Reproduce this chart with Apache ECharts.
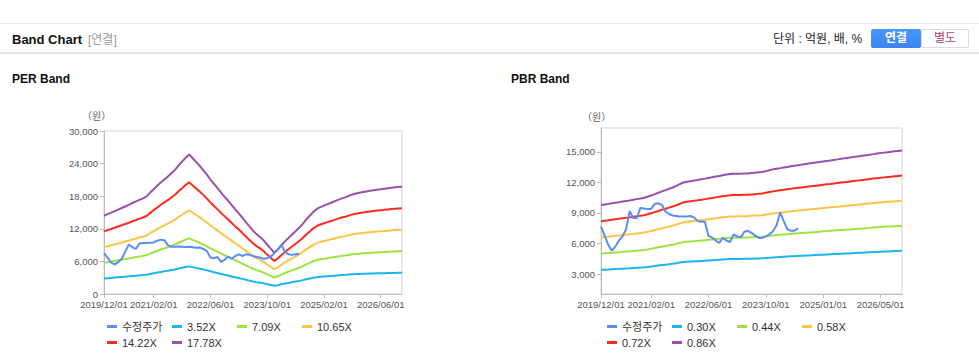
<!DOCTYPE html>
<html><head><meta charset="utf-8">
<script src="https://cdn.jsdelivr.net/npm/echarts@6/dist/echarts.min.js"></script>
<style>
html,body{margin:0;padding:0;background:#fff;width:979px;height:361px;overflow:hidden;font-family:"Liberation Sans","Noto Sans CJK KR",sans-serif;}
#chart{position:absolute;left:0;top:0;width:979px;height:361px;}
.abs{position:absolute;white-space:nowrap;}
</style></head><body>
<div id="chart"></div>
<div class="abs" style="left:0;top:23px;width:979px;height:1px;background:#ebebeb"></div>
<div class="abs" style="left:0;top:52px;width:979px;height:2px;background:#e3e3e3"></div>
<div class="abs" style="left:12px;top:31px;font-size:13px;font-weight:bold;color:#111;line-height:18px">Band Chart</div>
<div class="abs" style="left:88px;top:32px;font-size:12px;color:#999;line-height:16px">[연결]</div>
<div class="abs" style="left:773px;top:31px;font-size:12px;color:#222;line-height:16px">단위 : 억원, 배, %</div>
<div class="abs" style="left:871px;top:29px;width:50px;height:19px;background:linear-gradient(#4a98fa,#3a84f2);border-radius:2px;color:#fff;font-size:12px;font-weight:bold;text-align:center;line-height:19px">연결</div>
<div class="abs" style="left:921px;top:29px;width:46px;height:17px;border:1px solid #dcdcdc;border-radius:2px;color:#b4405e;font-size:12px;text-align:center;line-height:17px;background:#fff">별도</div>
<div class="abs" style="left:12px;top:71px;font-size:12px;font-weight:bold;color:#111;line-height:16px">PER Band</div>
<div class="abs" style="left:511px;top:71px;font-size:12px;font-weight:bold;color:#111;line-height:16px">PBR Band</div>
<script>
// ---------- DATA ----------
const perCategories = [
 '2019/12/01',
 '2020/01/01','2020/02/01','2020/03/01','2020/04/01','2020/05/01','2020/06/01','2020/07/01','2020/08/01','2020/09/01','2020/10/01','2020/11/01','2020/12/01',
 '2021/01/01','2021/02/01','2021/03/01','2021/04/01','2021/05/01','2021/06/01','2021/07/01','2021/08/01','2021/09/01','2021/10/01','2021/11/01','2021/12/01',
 '2022/01/01','2022/02/01','2022/03/01','2022/04/01','2022/05/01','2022/06/01','2022/07/01','2022/08/01','2022/09/01','2022/10/01','2022/11/01','2022/12/01',
 '2023/01/01','2023/02/01','2023/03/01','2023/04/01','2023/05/01','2023/06/01','2023/07/01','2023/08/01','2023/09/01','2023/10/01','2023/11/01','2023/12/01',
 '2024/01/01','2024/02/01','2024/03/01','2024/04/01','2024/05/01','2024/06/01','2024/07/01','2024/08/01','2024/09/01','2024/10/01','2024/11/01','2024/12/01',
 '2025/01/01','2025/02/01','2025/03/01','2025/04/01','2025/05/01','2025/06/01','2025/07/01','2025/08/01','2025/09/01','2025/10/01','2025/11/01','2025/12/01',
 '2026/01/01','2026/02/01','2026/03/01','2026/04/01','2026/05/01','2026/06/01','2026/07/01','2026/08/01','2026/09/01','2026/10/01','2026/11/01','2026/12/01'
];
const pbrCategories = [
 '2019/12/01',
 '2020/01/01','2020/02/01','2020/03/01','2020/04/01','2020/05/01','2020/06/01','2020/07/01','2020/08/01','2020/09/01','2020/10/01','2020/11/01','2020/12/01',
 '2021/01/01','2021/02/01','2021/03/01','2021/04/01','2021/05/01','2021/06/01','2021/07/01','2021/08/01','2021/09/01','2021/10/01','2021/11/01','2021/12/01',
 '2022/01/01','2022/02/01','2022/03/01','2022/04/01','2022/05/01','2022/06/01','2022/07/01','2022/08/01','2022/09/01','2022/10/01','2022/11/01','2022/12/01',
 '2023/01/01','2023/02/01','2023/03/01','2023/04/01','2023/05/01','2023/06/01','2023/07/01','2023/08/01','2023/09/01','2023/10/01','2023/11/01','2023/12/01',
 '2024/01/01','2024/02/01','2024/03/01','2024/04/01','2024/05/01','2024/06/01','2024/07/01','2024/08/01','2024/09/01','2024/10/01','2024/11/01','2024/12/01','2024/12/15',
 '2025/01/01','2025/02/01','2025/03/01','2025/04/01','2025/05/01','2025/06/01','2025/07/01','2025/08/01','2025/09/01','2025/10/01','2025/11/01','2025/12/01',
 '2026/01/01','2026/02/01','2026/03/01','2026/04/01','2026/05/01','2026/06/01','2026/07/01','2026/08/01','2026/09/01','2026/10/01','2026/11/01'
];
const perTickLabels = ['2019/12/01','2021/02/01','2022/06/01','2023/10/01','2025/02/01','2026/06/01'];
const pbrTickLabels = ['2019/12/01','2021/02/01','2022/06/01','2023/10/01','2025/01/01','2026/05/01'];

const perMultiples = [3.52, 7.09, 10.65, 14.22, 17.78];
const pbrMultiples = [0.30, 0.44, 0.58, 0.72, 0.86];
const perBandNames = ['3.52X','7.09X','10.65X','14.22X','17.78X'];
const pbrBandNames = ['0.30X','0.44X','0.58X','0.72X','0.86X'];

// EPS (원)
const eps = [810,
 826,842,858,874,890,906,922,942,958,975,990,1010,
 1050,1085,1120,1155,1185,1215,1250,1285,1330,1370,1410,1445,
 1405,1365,1325,1280,1235,1185,1140,1095,1050,1005,965,920,
 875,835,790,745,700,655,620,590,555,510,470,428,
 460,505,545,580,615,650,685,725,770,810,850,880,
 900,915,930,945,960,975,990,1000,1015,1030,1040,1048,
 1055,1062,1068,1074,1080,1085,1090,1095,1100,1104,1108,1111];
// BPS (원)
const bps = [11380,
 11440,11500,11570,11640,11700,11770,11840,11900,11980,12050,12120,12200,
 12320,12470,12620,12780,12930,13080,13230,13380,13560,13760,13950,14030,
 14100,14170,14230,14310,14390,14470,14550,14630,14700,14780,14850,14920,
 14940,14950,14960,14980,14990,15030,15070,15110,15150,15250,15350,15450,
 15520,15590,15660,15730,15800,15870,15930,15990,16050,16110,16170,16230,16290,
 16350,16410,16470,16530,16590,16650,16710,16770,16830,16890,16950,
 17010,17070,17130,17190,17250,17310,17360,17410,17460,17510,17560,17600];
// 수정주가 (원)
const perPrice = [7500,
 6700,5800,5400,5900,6500,7800,9100,8600,8300,9300,9400,9400,
 9450,9500,9800,10000,9900,9000,8700,8700,8750,8700,8650,8700,
 8600,8500,8550,8300,7900,6700,6600,6800,5900,6300,6900,6500,
 7000,7300,7000,7300,7200,7000,6800,6700,6500,6600,6900,7500,
 8200,9000,7800,7300,7200,7300,7400];
const pbrPrice = [7650,
 6800,5900,5300,5700,6300,6700,7400,9200,8500,8500,9500,9450,
 9400,9400,9900,9950,9800,9150,8900,8750,8700,8650,8650,8650,
 8700,8550,8200,8150,8150,6750,6600,6300,6050,6550,6300,6150,
 6900,6700,6600,7150,7250,7050,6800,6550,6550,6700,6900,7200,
 7800,9050,8200,7400,7250,7250,7500];

const priceName = '수정주가';
const bandColors = ['#1cb5f2','#9de43f','#ffc447','#ff2b1c','#9b4fae'];
const priceColor = '#5a8ef6';

// ---------- CHART ----------
const chart = echarts.init(document.getElementById('chart'), null, {renderer:'svg'});
const FONT = '"Liberation Sans","Noto Sans CJK KR",sans-serif';
const fmt = v => Number(v).toLocaleString('en-US');

function xAxisCfg(gi, cats, ticks){
  const f = (i, v) => ticks.indexOf(v) >= 0;
  return {type:'category', gridIndex:gi, data:cats, boundaryGap:false,
    axisLine:{lineStyle:{color:'#bbbbbb'}},
    axisTick:{show:true, interval:f, length:4, lineStyle:{color:'#bbbbbb'}},
    axisLabel:{interval:f, color:'#555', fontSize:9.5, fontFamily:FONT, margin:6},
    splitLine:{show:false}};
}
function yAxisCfg(gi, extra){
  return Object.assign({type:'value', gridIndex:gi,
    axisLine:{show:true, lineStyle:{color:'#bbbbbb'}},
    axisTick:{show:true, length:4, lineStyle:{color:'#bbbbbb'}},
    axisLabel:{color:'#555', fontSize:9.5, fontFamily:FONT, margin:6, formatter:fmt},
    splitLine:{show:false}}, extra);
}

const series = [];
function addSeries(gi, price, base, mults, names){
  series.push({name:priceName, type:'line', xAxisIndex:gi, yAxisIndex:gi, data:price,
    showSymbol:false, symbol:'none', lineStyle:{width:2, color:priceColor}, itemStyle:{color:priceColor}, z:5});
  mults.forEach((m, k) => {
    series.push({name:names[k], type:'line', xAxisIndex:gi, yAxisIndex:gi,
      data: base.map(b => Math.round(b*m)),
      showSymbol:false, symbol:'none', lineStyle:{width:2, color:bandColors[k]}, itemStyle:{color:bandColors[k]}, z:3});
  });
}
addSeries(0, perPrice, eps, perMultiples, perBandNames);
addSeries(1, pbrPrice, bps, pbrMultiples, pbrBandNames);

function legendCfg(left, names){
  return {left:left, top:321, width:262, orient:'horizontal', itemGap:5, padding:0,
    itemWidth:10, itemHeight:3, icon:'rect',
    data:[priceName].concat(names),
    textStyle:{color:'#333', fontSize:11, fontFamily:FONT, width:45, lineHeight:11, padding:[0,0,0,0]}};
}

chart.setOption({
  animation:false,
  grid:[
    {left:104, top:131, width:298, height:163, show:true, borderColor:'#d4d4d4', borderWidth:1, backgroundColor:'transparent'},
    {left:601, top:128, width:301, height:166, show:true, borderColor:'#d4d4d4', borderWidth:1, backgroundColor:'transparent'}
  ],
  xAxis:[xAxisCfg(0, perCategories, perTickLabels), xAxisCfg(1, pbrCategories, pbrTickLabels)],
  yAxis:[
    yAxisCfg(0, {min:0, max:30000, interval:6000}),
    yAxisCfg(1, {min:1040, max:17350, splitNumber:5, axisLabel:{color:'#555', fontSize:9.5, fontFamily:FONT, margin:6, formatter:fmt, showMinLabel:false, showMaxLabel:false}})
  ],
  legend:[legendCfg(107, perBandNames), legendCfg(607, pbrBandNames)],
  graphic:[
    {type:'text', left:82, top:111, style:{text:'（원）', fontSize:10, fill:'#666', fontFamily:FONT}},
    {type:'text', left:582, top:112, style:{text:'（원）', fontSize:10, fill:'#666', fontFamily:FONT}}
  ],
  series:series
});
</script>
</body></html>
